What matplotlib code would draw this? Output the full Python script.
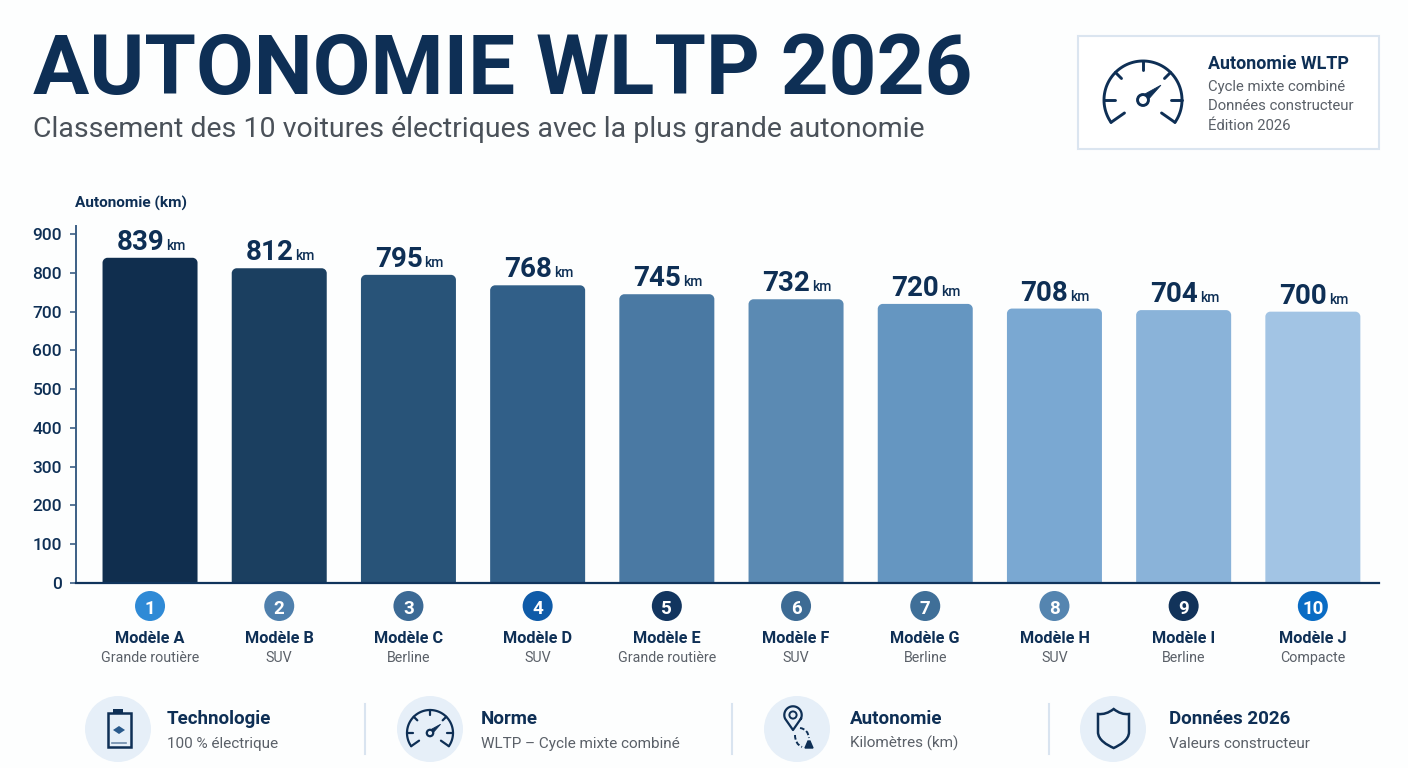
import matplotlib
matplotlib.use('Agg')
import matplotlib.pyplot as plt
import numpy as np
from matplotlib.patches import Circle, PathPatch, Polygon, Rectangle
from matplotlib.path import Path

plt.rcParams['font.family'] = ['Roboto', 'DejaVu Sans']

# données
models = ['Modèle A', 'Modèle B', 'Modèle C', 'Modèle D', 'Modèle E',
          'Modèle F', 'Modèle G', 'Modèle H', 'Modèle I', 'Modèle J']
segments = ['Grande routière', 'SUV', 'Berline', 'SUV', 'Grande routière',
            'SUV', 'Berline', 'SUV', 'Berline', 'Compacte']
ranges_km = [839, 812, 795, 768, 745, 732, 720, 708, 704, 700]
ranks = [1, 2, 3, 4, 5, 6, 7, 8, 9, 10]
y_ticks = [0, 100, 200, 300, 400, 500, 600, 700, 800, 900]

footer_titles = ['Technologie', 'Norme', 'Autonomie', 'Données 2026']
footer_subtitles = ['100 % électrique', 'WLTP – Cycle mixte combiné',
                    'Kilomètres (km)', 'Valeurs constructeur']
box_lines = ['Cycle mixte combiné', 'Données constructeur', 'Édition 2026']

# couleurs
NAVY = '#0e2f55'
GREY = '#5a6068'
bar_colors = ['#102e4e', '#1b3f60', '#285378', '#315f88', '#4a79a3',
              '#5b8ab3', '#6596c1', '#7aa8d2', '#8ab3d9', '#a2c4e4']
rank_colors = ['#2f8ad6', '#4f80ad', '#3c6a95', '#0f5ba8', '#12355f',
               '#3d6b94', '#3f6f98', '#5585b0', '#12335a', '#0a6cc4']

W, H = 1408, 768
fig = plt.figure(figsize=(W / 100, H / 100), dpi=100, facecolor='#fdfefe')

# calque en pixels pour le texte et les pictogrammes
page = fig.add_axes([0, 0, 1, 1])
page.set_xlim(0, W)
page.set_ylim(H, 0)
page.axis('off')


def rounded_bar(ax, x, width, height, rx, ry, color):
    """Barre à coins supérieurs arrondis, en coordonnées données"""
    l, r = x - width / 2, x + width / 2
    k = 0.55
    verts = [(l, 0), (l, height - ry),
             (l, height - ry + k * ry), (l + rx - k * rx, height), (l + rx, height),
             (r - rx, height),
             (r - rx + k * rx, height), (r, height - ry + k * ry), (r, height - ry),
             (r, 0), (l, 0)]
    codes = [Path.MOVETO, Path.LINETO, Path.CURVE4, Path.CURVE4, Path.CURVE4,
             Path.LINETO, Path.CURVE4, Path.CURVE4, Path.CURVE4,
             Path.LINETO, Path.CLOSEPOLY]
    ax.add_patch(PathPatch(Path(verts, codes), facecolor=color, edgecolor='none', zorder=2))


def stroke(xs, ys, lw=2.0, color=NAVY, **kw):
    page.plot(xs, ys, color=color, lw=lw, solid_capstyle='round', **kw)


def curve(p0, p1, p2, lw=1.4):
    page.add_patch(PathPatch(Path([p0, p1, p2], [Path.MOVETO, Path.CURVE3, Path.CURVE3]),
                             fc='none', ec=NAVY, lw=lw, ls=(0, (2.4, 1.2))))


def gauge(cx, cy, r, lw):
    """Compteur : arc, graduations et aiguille"""
    a = np.radians(np.linspace(-35, 215, 80))
    stroke(cx + r * np.cos(a), cy - r * np.sin(a), lw)
    for deg, inner in [(0, .72), (45, .78), (90, .78), (135, .78), (180, .72),
                       (-35, .58), (215, .58)]:
        t = np.radians(deg)
        stroke([cx + r * np.cos(t), cx + inner * r * np.cos(t)],
               [cy - r * np.sin(t), cy - inner * r * np.sin(t)], lw)
    page.add_patch(Circle((cx, cy), r * .14, fc='none', ec=NAVY, lw=lw))
    # aiguille effilée
    page.add_patch(Polygon([(cx + r * .06, cy - r * .16), (cx + r * .16, cy - r * .04),
                            (cx + r * .46, cy - r * .38)], fc=NAVY, ec=NAVY, lw=.6))


# zone de graphique
ax = fig.add_axes([76 / W, 1 - 583 / H, (1379 - 76) / W, (583 - 226) / H])
ax.patch.set_alpha(0)
ax.set_xlim(-0.573, 9.512)
ax.set_ylim(0, 921)

x_pos = np.arange(len(ranges_km))
px_x = ax.get_window_extent().width / (9.512 + 0.573)
px_y = ax.get_window_extent().height / 921
for i, v in zip(x_pos, ranges_km):
    rounded_bar(ax, i, 95 / px_x, v, 5 / px_x, 5 / px_y, bar_colors[i])
    ax.annotate(str(v), (i, v), xytext=(14 * .72, 8 * .72), textcoords='offset points',
                ha='right', va='baseline', fontsize=20, fontweight='bold', color=NAVY)
    ax.annotate('km', (i, v), xytext=(16 * .72, 8 * .72), textcoords='offset points',
                ha='left', va='baseline', fontsize=10, fontweight='medium', color=NAVY)

ax.set_yticks(y_ticks)
ax.set_xticks([])
ax.tick_params(axis='y', length=4, width=1.2, color='#3c5f85', labelcolor=NAVY,
               labelsize=12.5, pad=6)
for label in ax.get_yticklabels():
    label.set_fontweight('medium')
for side in ['top', 'right']:
    ax.spines[side].set_visible(False)
ax.spines['left'].set_color('#3c5f85')
ax.spines['left'].set_linewidth(1.4)
ax.spines['bottom'].set_color('#10345c')
ax.spines['bottom'].set_linewidth(1.6)

# titre
page.text(33, 94, 'AUTONOMIE WLTP 2026', fontsize=60.2, fontweight='bold', color=NAVY, va='baseline')
page.text(33, 137, 'Classement des 10 voitures électriques avec la plus grande autonomie',
          fontsize=20.5, color='#4a5159', va='baseline')
page.text(75, 208, 'Autonomie (km)', fontsize=11.1, fontweight='bold', color=NAVY, va='baseline')

# encart
page.add_patch(Rectangle((1078, 36), 301, 113, fc='#ffffff', ec='#dbe5f0', lw=1.5))
gauge(1143, 100, 39, 2.1)
page.text(1208, 69, 'Autonomie WLTP', fontsize=12.9, fontweight='bold', color=NAVY, va='baseline')
for y, line in zip([91, 110, 130], box_lines):
    page.text(1208, y, line, fontsize=10.7, color=GREY, va='baseline')

# rang, modèle et catégorie sous chaque barre
for i in x_pos:
    cx = page.transData.inverted().transform(ax.transData.transform((i, 0)))[0]
    page.add_patch(Circle((cx, 606), 15, fc=rank_colors[i], ec='none'))
    page.text(cx, 606.5, str(ranks[i]), ha='center', va='center_baseline', fontsize=13.5,
              fontweight='bold', color='white')
    page.text(cx, 643, models[i], ha='center', va='baseline', fontsize=11.7,
              fontweight='bold', color=NAVY)
    page.text(cx, 662, segments[i], ha='center', va='baseline', fontsize=10.3, color=GREY)

# bandeau du bas
for cx in [118, 430, 797, 1113]:
    page.add_patch(Circle((cx, 729), 33, fc='#e6eff8', ec='none'))
for x in [365, 732, 1049]:
    page.plot([x, x], [704, 754], color='#d9e4f0', lw=1.5)
for x, t, s in zip([167, 481, 850, 1169], footer_titles, footer_subtitles):
    page.text(x, 724, t, fontsize=13.5, fontweight='bold', color=NAVY, va='baseline')
    page.text(x, 748, s, fontsize=11, color=GREY, va='baseline')

# batterie
page.add_patch(Rectangle((107.5, 713), 23, 34, fc='none', ec=NAVY, lw=1.8))
page.add_patch(Rectangle((113, 708.5), 10, 4.5, fc=NAVY, ec='none'))
page.add_patch(Polygon([(113, 730), (119, 726), (125, 730), (119, 734)], fc='#2a5a8c', ec='none'))
page.plot([112, 126], [743, 743], color='#6d8bab', lw=1.2)

# compteur
gauge(430, 733, 23, 1.6)

# repère et trajet
t = np.radians(np.linspace(-25, 205, 40))
pin_x = list(793 + 8.7 * np.cos(t)) + [793]
pin_y = list(715 - 8.7 * np.sin(t)) + [730]
page.plot(pin_x + pin_x[:1], pin_y + pin_y[:1], color=NAVY, lw=1.6)
page.add_patch(Circle((793, 715), 3.6, fc='none', ec=NAVY, lw=1.4))
curve((800, 728), (808, 729), (809, 738))
curve((795, 735), (795, 744), (802, 747))
page.add_patch(Polygon([(805, 748), (808, 741), (810, 741), (813, 748)], fc=NAVY, ec=NAVY, lw=1))

# bouclier
shield = Path([(1113.7, 709), (1106, 715), (1098, 714), (1098, 716),
               (1098, 716), (1098, 732), (1098, 732),
               (1098, 740), (1107, 745), (1113.7, 748),
               (1120, 745), (1129, 740), (1129, 732),
               (1129, 732), (1129, 716), (1129, 714),
               (1121, 715), (1113.7, 709), (1113.7, 709)],
              [Path.MOVETO, Path.CURVE3, Path.CURVE3, Path.LINETO,
               Path.CURVE3, Path.CURVE3, Path.LINETO,
               Path.CURVE4, Path.CURVE4, Path.CURVE4,
               Path.CURVE4, Path.CURVE4, Path.CURVE4,
               Path.CURVE3, Path.CURVE3, Path.LINETO,
               Path.CURVE3, Path.CURVE3, Path.CLOSEPOLY])
page.add_patch(PathPatch(shield, fc='none', ec=NAVY, lw=1.8))

fig.savefig('out.png', dpi=100, facecolor=fig.get_facecolor())
plt.close(fig)
